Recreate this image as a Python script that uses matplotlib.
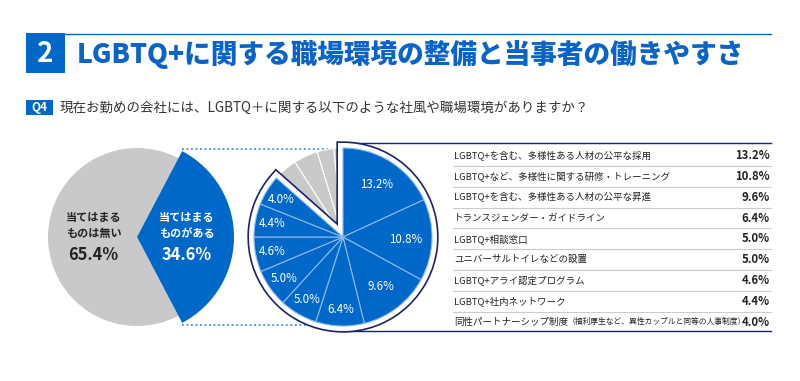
import numpy as np
import matplotlib
matplotlib.use("Agg")
import matplotlib.pyplot as plt
from matplotlib.patches import Wedge, Rectangle

plt.rcParams['font.family'] = ['Noto Sans CJK JP', 'DejaVu Sans']

# data
overall_labels = ["当てはまる\nものは無い", "当てはまる\nものがある"]
overall_values = [65.4, 34.6]

item_labels = [
    "LGBTQ+を含む、多様性ある人材の公平な採用",
    "LGBTQ+など、多様性に関する研修・トレーニング",
    "LGBTQ+を含む、多様性ある人材の公平な昇進",
    "トランスジェンダー・ガイドライン",
    "LGBTQ+相談窓口",
    "ユニバーサルトイレなどの設置",
    "LGBTQ+アライ認定プログラム",
    "LGBTQ+社内ネットワーク",
    "同性パートナーシップ制度",
]
item_note = "（福利厚生など、異性カップルと同等の人事制度）"
item_values = [13.2, 10.8, 9.6, 6.4, 5.0, 5.0, 4.6, 4.4, 4.0]
other_values = [3.2, 3.2, 2.2, 1.2]   # unlabelled grey slices (estimated)

title = "LGBTQ+に関する職場環境の整備と当事者の働きやすさ"
question = "現在お勤めの会社には、LGBTQ＋に関する以下のような社風や職場環境がありますか？"

BLUE = "#0068c8"
TITLE_BLUE = "#0a63c6"
GREY = "#c9c9c9"
NAVY = "#1b2366"
DOT = "#3d8fe0"
TXT = "#222222"

W, H = 800, 381
R = 89  # pie radius in px

fig = plt.figure(figsize=(W / 100, H / 100), dpi=100)

# overlay in pixel coordinates for layout items
ov = fig.add_axes([0, 0, 1, 1])
ov.set_xlim(0, W)
ov.set_ylim(H, 0)
ov.axis('off')
ov.set_zorder(0)


def pie_axes(cx, cy, half=115):
    ax = fig.add_axes([(cx - half) / W, (H - cy - half) / H, 2 * half / W, 2 * half / H])
    ax.set_zorder(1)
    return ax, half / R


# header
ov.add_patch(Rectangle((26, 33), 39, 40, color=BLUE, lw=0))
ov.text(45.5, 53.5, "2", color="white", fontsize=20, fontweight="bold", ha="center", va="center")
ov.plot([65, 771], [33.5, 33.5], color=BLUE, lw=1)
ov.text(77, 54, title, color=TITLE_BLUE, fontsize=19.2, fontweight="heavy", ha="left", va="center")

ov.add_patch(Rectangle((26, 100), 27, 15, color=BLUE, lw=0))
ov.text(39.5, 107.5, "Q4", color="white", fontsize=8.5, fontweight="bold", ha="center", va="center")
ov.text(60, 107.5, question, color="#333333", fontsize=9.7, ha="left", va="center")

# left pie: blue slice centred on the right
axL, limL = pie_axes(137, 237)
wL, _ = axL.pie(overall_values, colors=[GREY, BLUE], startangle=overall_values[1] * 1.8,
                counterclock=True, wedgeprops=dict(lw=0))
wL[1].set_radius(1.09)
axL.set_xlim(-limL, limL)
axL.set_ylim(-limL, limL)
axL.text(-0.49, 0.13, overall_labels[0], ha="center", va="center", fontsize=8, fontweight="bold",
         color=TXT, linespacing=1.25)
axL.text(-0.49, -0.2, f"{overall_values[0]}%", ha="center", va="center", fontsize=11.8,
         fontweight="bold", color=TXT)
axL.text(0.56, 0.13, overall_labels[1], ha="center", va="center", fontsize=8, fontweight="bold",
         color="white", linespacing=1.25)
axL.text(0.56, -0.2, f"{overall_values[1]}%", ha="center", va="center", fontsize=11.8,
         fontweight="bold", color="white")

# dotted connectors
ov.plot([182, 338], [149, 149], color=DOT, lw=1.3, ls=(0, (1, 1.5)))
ov.plot([182, 330], [325, 325], color=DOT, lw=1.3, ls=(0, (1, 1.5)))

# right pie
axR, limR = pie_axes(343, 237)
vals = item_values + other_values
cols = [BLUE] * len(item_values) + [GREY] * len(other_values)
wR, _ = axR.pie(vals, colors=cols, startangle=90, counterclock=False,
                wedgeprops=dict(lw=0.8, edgecolor="white"))
for w in wR[:len(item_values)]:
    w.set_edgecolor("#8db8ea")
    w.set_zorder(4)
for w in wR[len(item_values):]:
    w.set_zorder(1)

span = 360 * sum(item_values) / sum(vals)
for lw, col, z in [(9.6, NAVY, 2), (7.2, "white", 3)]:
    outline = Wedge((0, 0), 1, 90 - span, 90, facecolor="none", edgecolor=col, lw=lw, zorder=z)
    outline.set_joinstyle("miter")
    axR.add_patch(outline)

for w, v in zip(wR[:len(item_values)], item_values):
    mid = np.deg2rad((w.theta1 + w.theta2) / 2)
    rl = 0.7 if v > 9 else 0.81
    axR.text(rl * np.cos(mid), rl * np.sin(mid), f"{v}%", ha="center", va="center",
             color="white", fontsize=8.3, zorder=5)
axR.set_xlim(-limR, limR)
axR.set_ylim(-limR, limR)

# table
ov.plot([338, 771], [143, 143], color=NAVY, lw=1)
ov.plot([340, 771], [331, 331], color=NAVY, lw=1)
y0, dy = 155.5, 20.85
for i, (lab, v) in enumerate(zip(item_labels, item_values)):
    y = y0 + i * dy
    t = ov.text(454, y, lab, ha="left", va="center", fontsize=6.8, color=TXT)
    ov.text(770, y, f"{v}%", ha="right", va="center", fontsize=8.2, fontweight="bold", color=TXT)
    if i < len(item_labels) - 1:
        ov.plot([453, 771], [y + dy / 2, y + dy / 2], color="#cccccc", lw=0.8)
ov.annotate(item_note, xy=(1, 0.5), xycoords=t, ha="left", va="center", fontsize=5.6, color=TXT)

fig.savefig("out.png", dpi=100)
